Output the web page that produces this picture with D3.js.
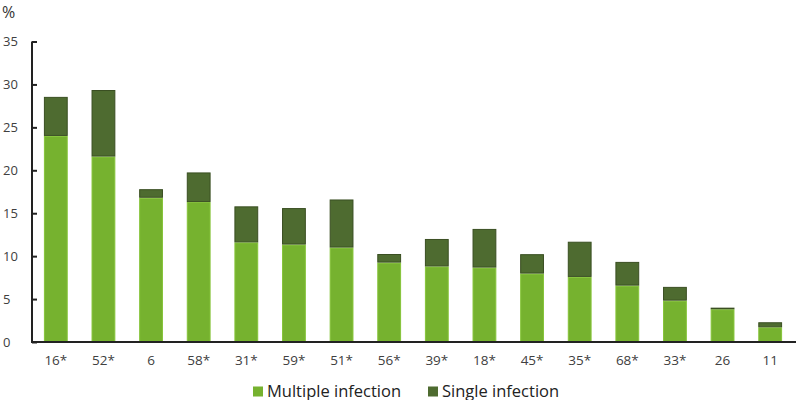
<!DOCTYPE html>
<html>
<head>
<meta charset="utf-8">
<script src="https://cdn.jsdelivr.net/npm/d3@7"></script>
<style>
  html, body { margin: 0; padding: 0; background: #fff; }
  svg { display: block; }
  text { font-family: "Open Sans", "Noto Sans", sans-serif; }
</style>
</head>
<body>
<svg id="chart" width="796" height="400"></svg>
<script>
const categories = ["16*", "52*", "6", "58*", "31*", "59*", "51*", "56*", "39*", "18*", "45*", "35*", "68*", "33*", "26", "11"];
const multipleInfection = [24.0, 21.6, 16.8, 16.3, 11.6, 11.35, 11.0, 9.25, 8.8, 8.67, 7.97, 7.58, 6.57, 4.82, 3.81, 1.71];
const singleInfection = [4.55, 7.75, 1.0, 3.45, 4.2, 4.25, 5.6, 1.0, 3.2, 4.5, 2.26, 4.1, 2.76, 1.6, 0.19, 0.59];
const yTicks = [0, 5, 10, 15, 20, 25, 30, 35];
const seriesNames = ["Multiple infection", "Single infection"];
const seriesColors = ["#76b22f", "#4e6b30"];
const seriesStrokes = ["#86c43a", "#3a4f22"];

const svg = d3.select("#chart");
const mLeft = 32, mRight = 794, mTop = 41.5, mBottom = 342;

const x = d3.scaleBand().domain(categories).range([mLeft, mRight]).paddingInner(0.5).paddingOuter(0.25);
const y = d3.scaleLinear().domain([0, 35]).range([mBottom, mTop]);

const rows = categories.map((c, i) => ({ cat: c, multiple: multipleInfection[i], single: singleInfection[i] }));
const stack = d3.stack().keys(["multiple", "single"]);
const layers = stack(rows);

svg.append("g").selectAll("g").data(layers).join("g")
  .attr("fill", (d, i) => seriesColors[i])
  .attr("stroke", (d, i) => seriesStrokes[i])
  .attr("stroke-width", 1)
  .selectAll("rect").data(d => d).join("rect")
  .attr("x", d => x(d.data.cat) + 0.5)
  .attr("width", x.bandwidth() - 1)
  .attr("y", d => y(d[1]) + 0.5)
  .attr("height", d => Math.max(0, y(d[0]) - y(d[1]) - 1));

// Y axis
const yAxis = svg.append("g").attr("transform", `translate(${mLeft},0)`)
  .call(d3.axisLeft(y).tickValues(yTicks).tickSize(-5).tickPadding(17));
yAxis.select(".domain").attr("stroke", "#222").attr("stroke-width", 2).attr("d", `M0,${mTop}V${mBottom}`);
yAxis.selectAll(".tick line").attr("stroke", "#222").attr("stroke-width", 2);
yAxis.selectAll(".tick text").attr("font-size", 13).attr("fill", "#404040")
  .attr("text-anchor", "start").attr("x", -29);

// X axis
const xAxis = svg.append("g").attr("transform", `translate(0,${mBottom})`)
  .call(d3.axisBottom(x).tickSize(0).tickPadding(13));
xAxis.select(".domain").attr("stroke", "#222").attr("stroke-width", 2).attr("d", `M${mLeft - 1},0H796`);
xAxis.selectAll(".tick text").attr("font-size", 13.5).attr("fill", "#404040");

svg.selectAll(".tick text").attr("font-family", "'Open Sans', sans-serif");

// % label
svg.append("text").attr("x", 2).attr("y", 17.5).attr("font-size", 16).attr("fill", "#333").text("%");

// Legend
const legendX = [253, 428];
const legend = svg.append("g");
seriesNames.forEach((name, i) => {
  legend.append("rect").attr("x", legendX[i]).attr("y", 386.5).attr("width", 10).attr("height", 10)
    .attr("fill", seriesColors[i]);
  legend.append("text").attr("x", legendX[i] + 14).attr("y", 396.5).attr("font-size", 16.5)
    .attr("fill", "#222").text(name);
});
</script>
</body>
</html>
